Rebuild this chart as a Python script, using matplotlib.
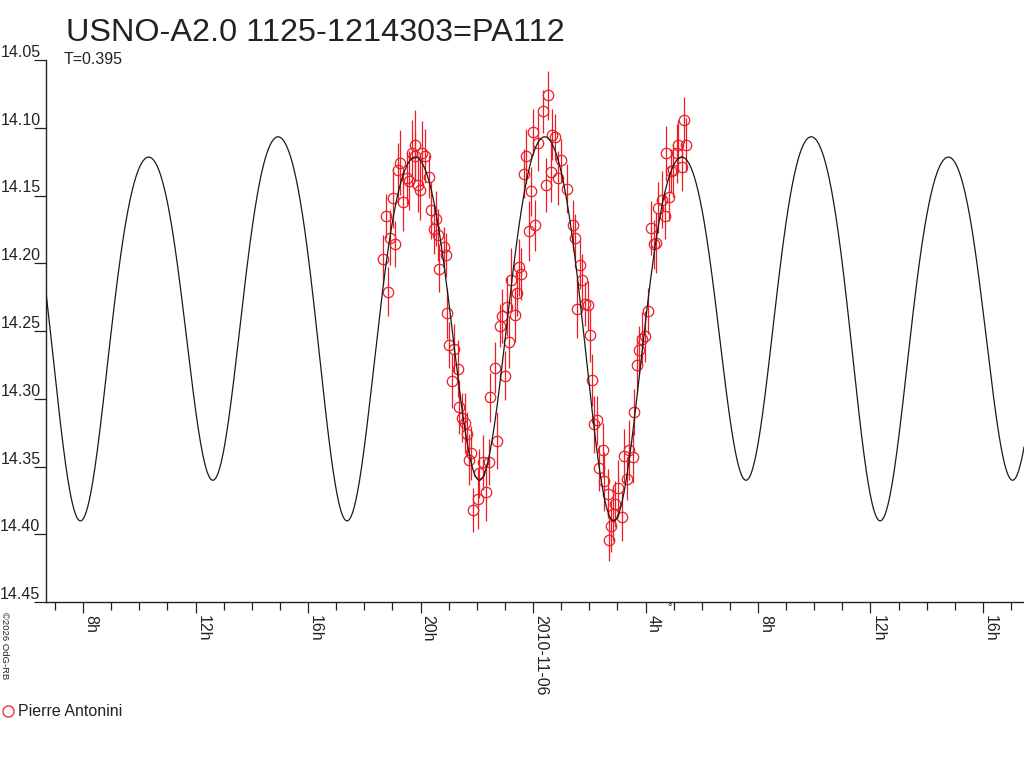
import numpy as np
import matplotlib
matplotlib.use('Agg')
import matplotlib.pyplot as plt
from matplotlib.lines import Line2D
from matplotlib.ticker import FixedLocator, MultipleLocator, FormatStrFormatter

plt.rcParams['font.family'] = ['Liberation Sans', 'DejaVu Sans']

# observations: hours from 2010-11-06 00:00, magnitude, error
obs_hours = [-5.334, -5.228, -5.156, -5.075, -4.989, -4.897, -4.801, -4.719, -4.623, -4.481,
             -4.420, -4.303, -4.207, -4.186, -4.090, -4.008, -3.947, -3.830, -3.688, -3.645,
             -3.531, -3.439, -3.378, -3.332, -3.176, -3.094, -3.048, -2.977, -2.891, -2.809,
             -2.656, -2.621, -2.536, -2.418, -2.358, -2.276, -2.205, -2.123, -1.945, -1.910,
             -1.789, -1.682, -1.554, -1.529, -1.351, -1.270, -1.174, -1.113, -0.996, -0.925,
             -0.843, -0.772, -0.658, -0.562, -0.498, -0.437, -0.331, -0.238, -0.153, -0.060,
             0.000, 0.082, 0.178, 0.356, 0.452, 0.533, 0.629, 0.676, 0.793, 0.889,
             1.006, 1.220, 1.422, 1.504, 1.565, 1.682, 1.753, 1.831, 2.027, 1.967,
             2.109, 2.169, 2.276, 2.472, 2.347, 2.525, 2.649, 2.713, 2.774, 2.827,
             2.916, 3.023, 3.154, 3.247, 3.325, 3.425, 3.546, 3.602, 3.688, 3.770,
             3.866, 3.972, 4.072, 4.186, 4.303, 4.374, 4.456, 4.577, 4.694, 4.730,
             4.847, 4.897, 4.989, 5.110, 5.167, 5.288, 5.370, 5.441]
obs_mags = [14.197, 14.165, 14.221, 14.181, 14.152, 14.186, 14.131, 14.126, 14.155, 14.137,
            14.139, 14.119, 14.121, 14.113, 14.142, 14.146, 14.119, 14.121, 14.136, 14.161,
            14.175, 14.167, 14.179, 14.204, 14.188, 14.194, 14.237, 14.260, 14.287, 14.263,
            14.278, 14.306, 14.314, 14.318, 14.326, 14.345, 14.340, 14.382, 14.374, 14.355,
            14.347, 14.369, 14.347, 14.299, 14.277, 14.331, 14.246, 14.239, 14.283, 14.232,
            14.258, 14.212, 14.238, 14.222, 14.203, 14.208, 14.134, 14.121, 14.176, 14.147,
            14.103, 14.172, 14.111, 14.088, 14.142, 14.076, 14.133, 14.105, 14.107, 14.137,
            14.124, 14.145, 14.172, 14.181, 14.234, 14.201, 14.212, 14.230, 14.253, 14.231,
            14.286, 14.319, 14.316, 14.338, 14.351, 14.361, 14.370, 14.404, 14.394, 14.385,
            14.378, 14.366, 14.387, 14.342, 14.359, 14.338, 14.343, 14.310, 14.275, 14.264,
            14.256, 14.254, 14.235, 14.174, 14.186, 14.185, 14.159, 14.153, 14.165, 14.119,
            14.151, 14.132, 14.131, 14.119, 14.113, 14.129, 14.094, 14.113]
obs_errs = [0.018, 0.016, 0.018, 0.020, 0.022, 0.017, 0.020, 0.024, 0.021, 0.019,
            0.022, 0.025, 0.018, 0.026, 0.020, 0.022, 0.024, 0.020, 0.016, 0.021,
            0.018, 0.020, 0.019, 0.017, 0.015, 0.016, 0.019, 0.017, 0.020, 0.018,
            0.021, 0.020, 0.018, 0.022, 0.016, 0.019, 0.020, 0.016, 0.022, 0.018,
            0.020, 0.021, 0.017, 0.018, 0.019, 0.021, 0.016, 0.020, 0.018, 0.022,
            0.019, 0.023, 0.020, 0.017, 0.021, 0.019, 0.018, 0.020, 0.022, 0.018,
            0.017, 0.019, 0.021, 0.016, 0.020, 0.018, 0.022, 0.019, 0.017, 0.020,
            0.016, 0.018, 0.019, 0.017, 0.021, 0.018, 0.019, 0.016, 0.020, 0.018,
            0.019, 0.021, 0.018, 0.020, 0.017, 0.022, 0.018, 0.016, 0.019, 0.020,
            0.017, 0.021, 0.018, 0.020, 0.016, 0.022, 0.019, 0.017, 0.021, 0.018,
            0.020, 0.019, 0.017, 0.020, 0.018, 0.022, 0.019, 0.021, 0.017, 0.020,
            0.018, 0.016, 0.020, 0.022, 0.019, 0.018, 0.017, 0.020]

# fitted model (Fourier series), period T = 0.395 d
period_days = 0.395
epoch_hours = -16.11
mean_mag = 14.2328
cos_amps = [0.015, 0.1303, 0.0, 0.012]
sin_amps = [0.0075, 0.0, 0.0, 0.0]

tick_hours = [-16, -12, -8, -4, 0, 4, 8, 12, 16]
tick_labels = ['8h', '12h', '16h', '20h', '2010-11-06', '4h', '8h', '12h', '16h']
mag_ticks = [14.05, 14.10, 14.15, 14.20, 14.25, 14.30, 14.35, 14.40, 14.45]

xmin, xmax = -17.32, 17.46
red = '#ee1c25'
ink = '#222222'

fig = plt.figure(figsize=(10.24, 7.68), dpi=100)
ax = fig.add_axes([46 / 1024, 1 - 602 / 768, 1 - 46 / 1024, (602 - 60) / 768])

t = np.linspace(xmin, xmax, 2000)
phase = 2 * np.pi * (t - epoch_hours) / (period_days * 24)
model = np.full_like(t, mean_mag)
for k, (a, b) in enumerate(zip(cos_amps, sin_amps), start=1):
    model += a * np.cos(k * phase) + b * np.sin(k * phase)

ax.errorbar(obs_hours, obs_mags, yerr=obs_errs, fmt='o', ms=7.5, mfc='none',
            mec=red, mew=0.9, ecolor=red, elinewidth=0.9, capsize=0, zorder=2)
ax.plot(t, model, color='#1a1a1a', lw=0.9, zorder=3)

ax.set_xlim(xmin, xmax)
ax.set_ylim(14.45, 14.05)

for s in ['top', 'right']:
    ax.spines[s].set_visible(False)
for s in ['left', 'bottom']:
    ax.spines[s].set_linewidth(1.0)
    ax.spines[s].set_color(ink)

ax.xaxis.set_major_locator(FixedLocator(tick_hours))
ax.set_xticklabels(tick_labels, rotation=270, ha='left', va='top', fontsize=11.5,
                   color=ink)
ax.xaxis.set_minor_locator(MultipleLocator(1))
ax.tick_params(axis='x', which='major', length=8, width=0.9, pad=1.5, color=ink)
ax.tick_params(axis='x', which='minor', length=6, width=0.9, color=ink)

ax.yaxis.set_major_locator(FixedLocator(mag_ticks))
ax.yaxis.set_major_formatter(FormatStrFormatter('%.2f'))
ax.tick_params(axis='y', which='major', length=9, width=0.9, pad=-5, labelsize=11.5,
               color=ink, labelcolor=ink)
for lab in ax.get_yticklabels():
    lab.set_verticalalignment('bottom')

ax.text(4.87, 14.45, '°', ha='center', va='top', fontsize=8, color=ink)

fig.text(66 / 1024, 1 - 41 / 768, 'USNO-A2.0 1125-1214303=PA112', fontsize=23.3,
         ha='left', va='baseline', color=ink)
fig.text(64 / 1024, 1 - 64 / 768, 'T=0.395', fontsize=11.5, ha='left', va='baseline',
         color=ink)
fig.text(4 / 1024, 1 - 612 / 768, '©2026 OdG-RB', rotation=270, fontsize=6.8,
         ha='center', va='top', color=ink)

handle = Line2D([], [], marker='o', ls='none', ms=8, mfc='none', mec=red, mew=0.9)
fig.legend(handles=[handle], labels=['Pierre Antonini'], loc='center left',
           bbox_to_anchor=(-0.016, 1 - 712 / 768), frameon=False, fontsize=11.5,
           handletextpad=0.05, handlelength=1.2, labelcolor=ink)

fig.savefig('out.png', dpi=100)
